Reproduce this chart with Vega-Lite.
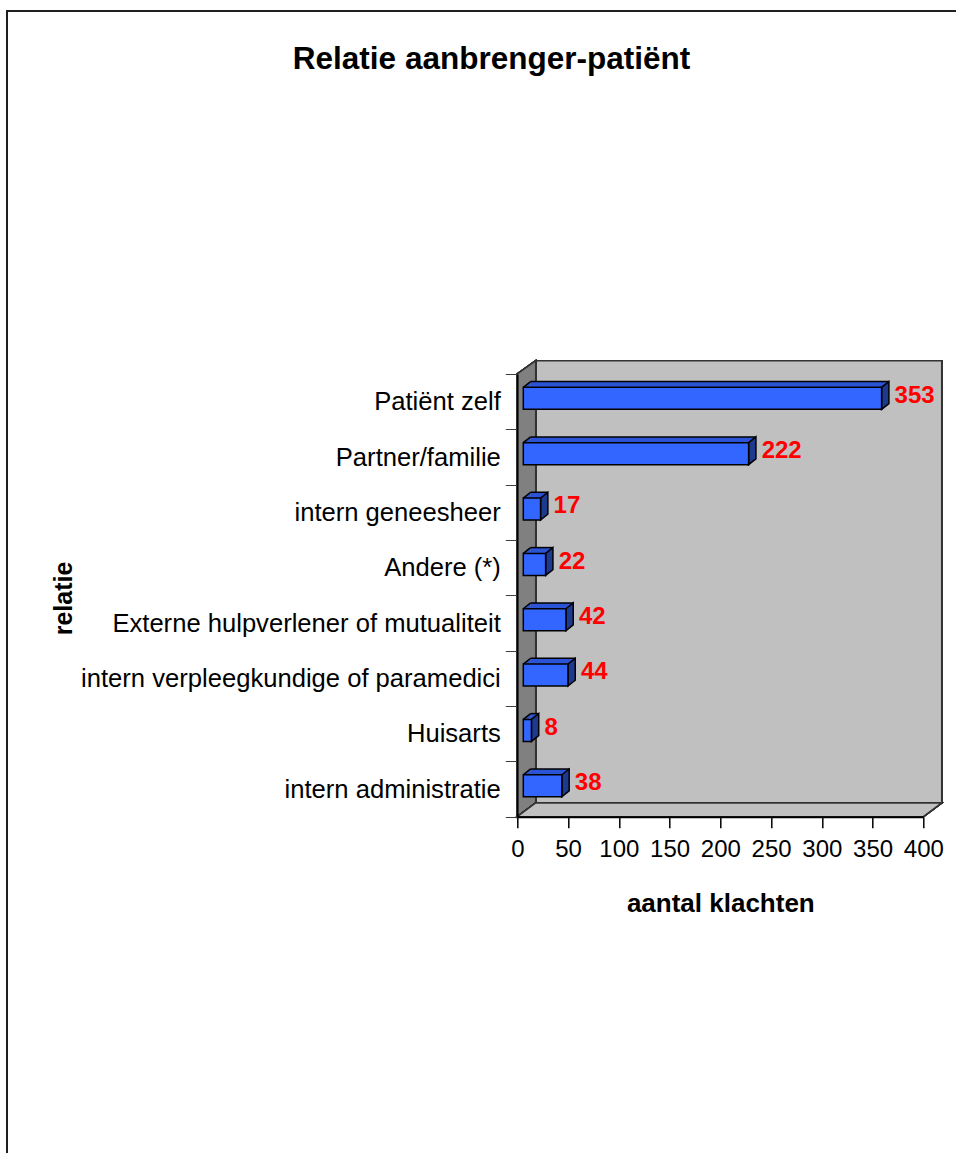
{
  "$schema": "https://vega.github.io/schema/vega-lite/v6.json",
  "width": 406,
  "height": 442.7,
  "autosize": {"type": "none"},
  "padding": {"left": 517.3, "top": 374, "right": 32.7, "bottom": 336.3},
  "background": "white",
  "config": {"view": {"stroke": null}, "font": "Liberation Sans"},
  "title": {
    "text": "Relatie aanbrenger-patiënt",
    "font": "Liberation Sans",
    "fontSize": 31.5,
    "fontWeight": "bold",
    "color": "black",
    "anchor": "middle",
    "frame": "group",
    "dx": -228.8,
    "baseline": "alphabetic",
    "offset": 0,
    "dy": 92
  },
  "data": {
    "values": [
      {"relatie": "Patiënt zelf", "aantal": 353},
      {"relatie": "Partner/familie", "aantal": 222},
      {"relatie": "intern geneesheer", "aantal": 17},
      {"relatie": "Andere (*)", "aantal": 22},
      {"relatie": "Externe hulpverlener of mutualiteit", "aantal": 42},
      {"relatie": "intern verpleegkundige of paramedici", "aantal": 44},
      {"relatie": "Huisarts", "aantal": 8},
      {"relatie": "intern administratie", "aantal": 38}
    ]
  },
  "encoding": {
    "y": {
      "field": "relatie",
      "type": "nominal",
      "sort": null,
      "scale": {
        "domain": ["Patiënt zelf", "Partner/familie", "intern geneesheer", "Andere (*)", "Externe hulpverlener of mutualiteit", "intern verpleegkundige of paramedici", "Huisarts", "intern administratie"],
        "paddingInner": 0,
        "paddingOuter": 0
      },
      "axis": {
        "zindex": 1,
        "title": "relatie",
        "titleFont": "Liberation Sans",
        "titleFontSize": 25,
        "titleFontWeight": "bold",
        "titleColor": "black",
        "titleAngle": 270,
        "titleX": -454,
        "titleY": 224,
        "titleAlign": "center",
        "titleBaseline": "middle",
        "labelFont": "Liberation Sans",
        "labelFontSize": 25.6,
        "labelColor": "black",
        "labelPadding": 5,
        "labelLimit": 0,
        "tickSize": 12,
        "tickColor": "#404040",
        "tickWidth": 1,
        "tickBand": "extent",
        "domainColor": "black",
        "domainWidth": 1.5,
        "grid": false
      }
    },
    "x": {
      "field": "aantal",
      "type": "quantitative",
      "scale": {"domain": [0, 400], "nice": false, "zero": true},
      "axis": {
        "zindex": 1,
        "title": "aantal klachten",
        "titleFont": "Liberation Sans",
        "titleFontSize": 26,
        "titleFontWeight": "bold",
        "titleColor": "black",
        "titleY": 95,
        "titleBaseline": "alphabetic",
        "values": [0, 50, 100, 150, 200, 250, 300, 350, 400],
        "labelFont": "Liberation Sans",
        "labelFontSize": 24,
        "labelColor": "black",
        "labelBaseline": "alphabetic",
        "labelPadding": 28.8,
        "labelFlush": false,
        "labelOverlap": false,
        "tickSize": 11,
        "tickColor": "black",
        "tickWidth": 1.5,
        "domainColor": "black",
        "domainWidth": 2,
        "grid": false
      }
    }
  },
  "layer": [
    {
      "description": "outer chart frame (left and top edges)",
      "mark": {"type": "point", "shape": "M-510.3,760 L-510.3,-390.7 L440,-390.7", "size": 4, "filled": false, "stroke": "#202020", "strokeWidth": 1.3, "opacity": 1},
      "encoding": {"x": {"datum": 0}, "y": {"datum": "Patiënt zelf"}}
    },
    {
      "description": "back wall",
      "mark": {"type": "point", "shape": "M18.4,-41 L424.4,-41 L424.4,401.3 L18.4,401.3 Z", "size": 4, "filled": true, "fill": "#C0C0C0", "stroke": "#333333", "strokeWidth": 1.5, "opacity": 1},
      "encoding": {"x": {"datum": 0}, "y": {"datum": "Patiënt zelf"}}
    },
    {
      "description": "left side wall",
      "mark": {"type": "point", "shape": "M0,-27.7 L18.4,-41 L18.4,401.3 L0,415 Z", "size": 4, "filled": true, "fill": "#808080", "stroke": "#333333", "strokeWidth": 1.5, "opacity": 1},
      "encoding": {"x": {"datum": 0}, "y": {"datum": "Patiënt zelf"}}
    },
    {
      "description": "floor",
      "mark": {"type": "point", "shape": "M0,415 L18.4,401.3 L424.4,401.3 L406,415 Z", "size": 4, "filled": true, "fill": "#C0C0C0", "stroke": "#333333", "strokeWidth": 1.5, "opacity": 1},
      "encoding": {"x": {"datum": 0}, "y": {"datum": "Patiënt zelf"}}
    },
    {
      "description": "bar top face",
      "mark": {"type": "bar", "size": 5.8, "xOffset": 13.3, "x2Offset": 13.3, "yOffset": -17.2, "fill": "#2B53D6", "strokeWidth": 0},
      "encoding": {}
    },
    {
      "description": "bar top face, left corner",
      "mark": {"type": "point", "shape": "M6,-14.3 L13.3,-20.1 L13.3,-14.3 Z", "size": 4, "filled": true, "fill": "#2B53D6", "strokeWidth": 0, "opacity": 1},
      "encoding": {"x": {"datum": 0}}
    },
    {
      "description": "bar top face, left edge",
      "mark": {"type": "point", "shape": "M6,-14.3 L13.3,-20.1", "size": 4, "filled": false, "stroke": "black", "strokeWidth": 1.5, "opacity": 1},
      "encoding": {"x": {"datum": 0}}
    },
    {
      "description": "bar top face, back edge",
      "mark": {"type": "rule", "xOffset": 13.3, "x2Offset": 13.3, "yOffset": -20.1, "stroke": "black", "strokeWidth": 1.5},
      "encoding": {"x2": {"datum": 0}}
    },
    {
      "description": "bar end face",
      "mark": {"type": "point", "shape": "M6,-14.3 L13.3,-20.1 L13.3,1.9 L6,7.7 Z", "size": 4, "filled": true, "fill": "#1E3A8F", "stroke": "black", "strokeWidth": 1.5, "opacity": 1},
      "encoding": {}
    },
    {
      "description": "bar front face",
      "mark": {"type": "bar", "size": 22, "xOffset": 6, "x2Offset": 6, "yOffset": -3.3, "fill": "#3366FF", "stroke": "black", "strokeWidth": 1.5},
      "encoding": {}
    },
    {
      "description": "value labels",
      "mark": {"type": "text", "align": "left", "baseline": "middle", "dx": 19, "dy": -6, "font": "Liberation Sans", "fontSize": 24, "fontWeight": "bold", "fill": "#FF0000"},
      "encoding": {"text": {"field": "aantal", "type": "quantitative"}}
    }
  ]
}
